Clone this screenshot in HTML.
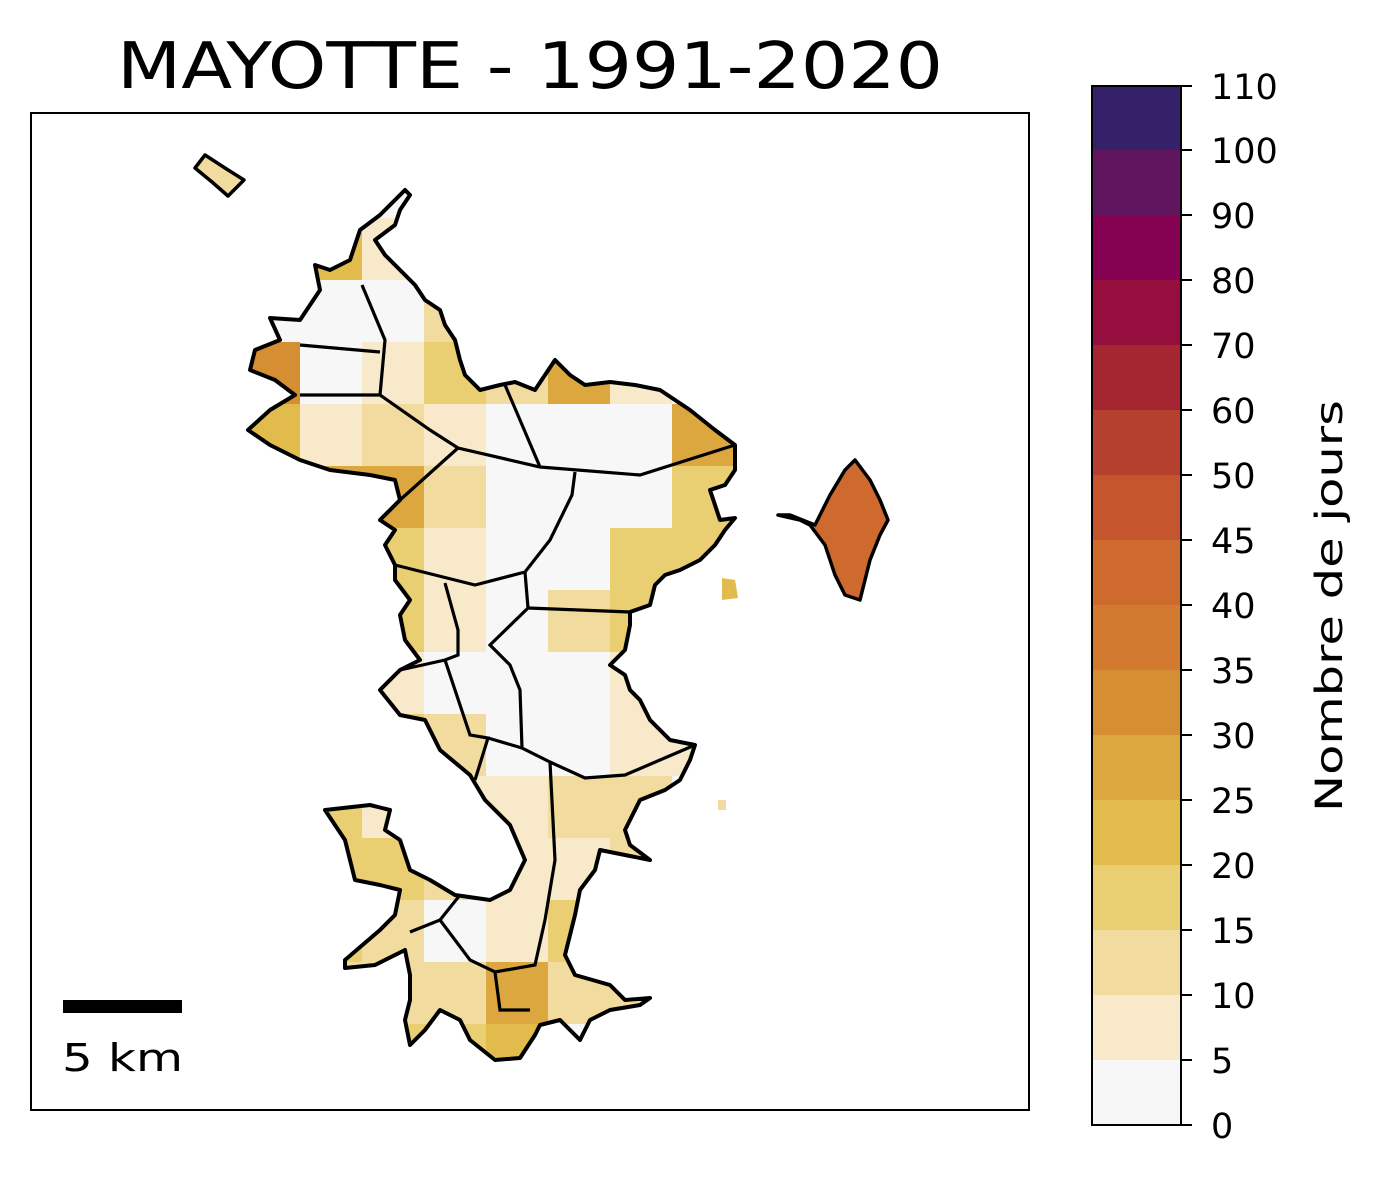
<!DOCTYPE html>
<html><head><meta charset="utf-8"><style>
body{margin:0;background:#fff;}
svg{display:block;font-family:"DejaVu Sans","Liberation Sans",sans-serif;}
</style></head><body>
<svg width="1383" height="1180" viewBox="0 0 1383 1180" xmlns="http://www.w3.org/2000/svg">
<rect width="1383" height="1180" fill="#fff"/>
<text x="117" y="88" font-size="64" textLength="826" lengthAdjust="spacingAndGlyphs">MAYOTTE - 1991-2020</text>
<defs>
<clipPath id="isl">
<path id="mainp" d="M405,190 L380,215 L360,230 L350,260 L330,270 L315,265 L320,290 L300,320 L270,318 L280,340 L255,350 L250,370 L275,380 L295,395 L270,410 L248,430 L270,445 L300,460 L330,470 L370,475 L395,480 L400,500 L380,520 L395,530 L385,545 L395,565 L395,580 L410,600 L400,615 L405,640 L420,660 L400,670 L380,690 L400,715 L425,720 L440,750 L470,775 L485,800 L510,825 L525,860 L510,890 L490,900 L455,895 L430,880 L410,870 L400,840 L385,830 L390,810 L370,805 L325,810 L345,840 L355,880 L380,885 L400,890 L395,915 L380,930 L345,960 L345,968 L375,965 L405,950 L410,975 L410,1000 L405,1020 L410,1045 L425,1030 L440,1010 L460,1020 L470,1040 L495,1060 L520,1058 L535,1035 L540,1025 L560,1020 L580,1040 L590,1020 L610,1010 L640,1005 L650,998 L625,1000 L610,985 L575,975 L565,955 L570,935 L575,915 L580,890 L595,870 L600,850 L625,855 L650,860 L630,845 L625,830 L640,800 L665,790 L680,780 L690,760 L695,745 L670,740 L650,720 L640,700 L630,690 L625,675 L610,665 L625,650 L630,625 L630,612 L650,605 L655,585 L665,575 L680,570 L700,560 L715,545 L725,530 L735,518 L720,520 L715,505 L710,490 L725,485 L735,470 L735,445 L715,430 L700,418 L690,410 L660,390 L635,385 L610,382 L585,385 L570,375 L555,360 L545,375 L535,390 L515,382 L500,385 L480,390 L465,375 L460,360 L455,340 L445,325 L440,310 L425,300 L415,285 L400,270 L385,255 L375,240 L395,225 L400,210 L410,195 Z"/>
</clipPath>
</defs>
<rect x="31" y="113" width="998" height="997" fill="#fff" stroke="#000" stroke-width="2"/>
<g clip-path="url(#isl)">
<rect x="238" y="150" width="520" height="950" fill="#f7f7f7"/>
<rect x="300" y="218" width="62" height="62" fill="#e1bb4c"/>
<rect x="362" y="218" width="62" height="62" fill="#f7e9c9"/>
<rect x="424" y="280" width="62" height="62" fill="#f1db9e"/>
<rect x="238" y="342" width="62" height="62" fill="#d58f32"/>
<rect x="362" y="342" width="62" height="62" fill="#f7e9c9"/>
<rect x="424" y="342" width="62" height="62" fill="#e9cf72"/>
<rect x="486" y="342" width="62" height="62" fill="#f1db9e"/>
<rect x="548" y="342" width="62" height="62" fill="#dca73e"/>
<rect x="610" y="342" width="62" height="62" fill="#f7e9c9"/>
<rect x="238" y="404" width="62" height="62" fill="#e1bb4c"/>
<rect x="300" y="404" width="62" height="62" fill="#f7e9c9"/>
<rect x="362" y="404" width="62" height="62" fill="#f1db9e"/>
<rect x="424" y="404" width="62" height="62" fill="#f7e9c9"/>
<rect x="672" y="404" width="62" height="62" fill="#dca73e"/>
<rect x="300" y="466" width="62" height="62" fill="#dca73e"/>
<rect x="362" y="466" width="62" height="62" fill="#dca73e"/>
<rect x="424" y="466" width="62" height="62" fill="#f1db9e"/>
<rect x="672" y="466" width="62" height="62" fill="#e9cf72"/>
<rect x="362" y="528" width="62" height="62" fill="#e9cf72"/>
<rect x="424" y="528" width="62" height="62" fill="#f7e9c9"/>
<rect x="610" y="528" width="62" height="62" fill="#e9cf72"/>
<rect x="672" y="528" width="62" height="62" fill="#e9cf72"/>
<rect x="362" y="590" width="62" height="62" fill="#e9cf72"/>
<rect x="424" y="590" width="62" height="62" fill="#f7e9c9"/>
<rect x="548" y="590" width="62" height="62" fill="#f1db9e"/>
<rect x="610" y="590" width="62" height="62" fill="#e9cf72"/>
<rect x="362" y="652" width="62" height="62" fill="#f7e9c9"/>
<rect x="610" y="652" width="62" height="62" fill="#f7e9c9"/>
<rect x="362" y="714" width="62" height="62" fill="#e9cf72"/>
<rect x="424" y="714" width="62" height="62" fill="#f1db9e"/>
<rect x="610" y="714" width="62" height="62" fill="#f7e9c9"/>
<rect x="672" y="714" width="62" height="62" fill="#f7e9c9"/>
<rect x="300" y="776" width="62" height="62" fill="#e9cf72"/>
<rect x="362" y="776" width="62" height="62" fill="#f7e9c9"/>
<rect x="424" y="776" width="62" height="62" fill="#f7e9c9"/>
<rect x="486" y="776" width="62" height="62" fill="#f7e9c9"/>
<rect x="548" y="776" width="124" height="62" fill="#f1db9e"/>
<rect x="300" y="838" width="124" height="62" fill="#e9cf72"/>
<rect x="424" y="838" width="62" height="62" fill="#f1db9e"/>
<rect x="486" y="838" width="124" height="62" fill="#f7e9c9"/>
<rect x="610" y="838" width="62" height="62" fill="#f1db9e"/>
<rect x="300" y="900" width="62" height="62" fill="#e9cf72"/>
<rect x="362" y="900" width="62" height="62" fill="#f1db9e"/>
<rect x="486" y="900" width="62" height="62" fill="#f7e9c9"/>
<rect x="548" y="900" width="62" height="62" fill="#e9cf72"/>
<rect x="300" y="962" width="186" height="62" fill="#f1db9e"/>
<rect x="486" y="962" width="62" height="62" fill="#dca73e"/>
<rect x="548" y="962" width="124" height="62" fill="#f1db9e"/>
<rect x="362" y="1024" width="124" height="62" fill="#e9cf72"/>
<rect x="486" y="1024" width="62" height="62" fill="#e1bb4c"/>
</g>
<use href="#mainp" fill="none" stroke="#000" stroke-width="4" stroke-linejoin="round"/>
<g fill="none" stroke="#000" stroke-width="3.2">
<path d="M362,285 L385,340 L380,395 L300,395"/>
<path d="M300,345 L380,352"/>
<path d="M380,395 L430,430 L458,448 L540,467 L640,475 L735,445"/>
<path d="M458,448 L400,500"/>
<path d="M505,385 L520,420 L540,467"/>
<path d="M575,472 L572,495 L550,540 L525,572 L475,585 L395,565"/>
<path d="M525,572 L528,608 L490,645 L510,665 L520,690 L522,748 L550,762 L585,778 L625,775 L695,745"/>
<path d="M528,608 L630,612"/>
<path d="M445,583 L458,630 L458,655 L445,660 L400,670"/>
<path d="M445,660 L470,735 L488,738 L475,780"/>
<path d="M488,738 L522,748"/>
<path d="M550,762 L555,860 L545,920 L535,965 L495,972 L470,960 L440,920 L460,895"/>
<path d="M440,920 L410,932"/>
<path d="M495,972 L500,1010 L530,1010"/>
<path d="M820,540 L888,520"/>
</g>
<path d="M855,460 L870,480 L880,500 L888,520 L880,535 L870,560 L860,600 L845,595 L835,575 L825,545 L810,525 L800,520 L778,515 L790,515 L815,525 L830,495 L845,470 Z" fill="#ce6a2e" stroke="#000" stroke-width="3.5" stroke-linejoin="round"/>
<path d="M205,155 L195,168 L212,182 L228,196 L244,180 L225,168 Z" fill="#f1db9e" stroke="#000" stroke-width="3.5" stroke-linejoin="round"/>
<path d="M722,578 L735,580 L738,598 L722,600 Z" fill="#e1bb4c"/>
<rect x="718" y="800" width="8" height="10" fill="#f1db9e"/>
<rect x="63" y="1000" width="119" height="13" fill="#000"/>
<text x="62" y="1071" font-size="38" textLength="121" lengthAdjust="spacingAndGlyphs">5 km</text>
<g>
<rect x="1092" y="1060" width="89" height="65" fill="#f7f7f7"/>
<rect x="1092" y="995" width="89" height="65" fill="#f7e9c9"/>
<rect x="1092" y="930" width="89" height="65" fill="#f1db9e"/>
<rect x="1092" y="865" width="89" height="65" fill="#e9cf72"/>
<rect x="1092" y="800" width="89" height="65" fill="#e1bb4c"/>
<rect x="1092" y="735" width="89" height="65" fill="#dca73e"/>
<rect x="1092" y="670" width="89" height="65" fill="#d58f32"/>
<rect x="1092" y="605" width="89" height="65" fill="#d27a2f"/>
<rect x="1092" y="540" width="89" height="65" fill="#ce6a2e"/>
<rect x="1092" y="475" width="89" height="65" fill="#c4552d"/>
<rect x="1092" y="410" width="89" height="65" fill="#b5402e"/>
<rect x="1092" y="345" width="89" height="65" fill="#a52530"/>
<rect x="1092" y="280" width="89" height="65" fill="#960e3e"/>
<rect x="1092" y="215" width="89" height="65" fill="#850252"/>
<rect x="1092" y="150" width="89" height="65" fill="#62155f"/>
<rect x="1092" y="86" width="89" height="64" fill="#35206a"/>
<rect x="1092" y="86" width="89" height="1039" fill="none" stroke="#000" stroke-width="2"/>
</g>
<g stroke="#000" stroke-width="2">
<line x1="1181" y1="1125" x2="1192" y2="1125"/><line x1="1181" y1="1060" x2="1192" y2="1060"/>
<line x1="1181" y1="995" x2="1192" y2="995"/><line x1="1181" y1="930" x2="1192" y2="930"/>
<line x1="1181" y1="865" x2="1192" y2="865"/><line x1="1181" y1="800" x2="1192" y2="800"/>
<line x1="1181" y1="735" x2="1192" y2="735"/><line x1="1181" y1="670" x2="1192" y2="670"/>
<line x1="1181" y1="605" x2="1192" y2="605"/><line x1="1181" y1="540" x2="1192" y2="540"/>
<line x1="1181" y1="475" x2="1192" y2="475"/><line x1="1181" y1="410" x2="1192" y2="410"/>
<line x1="1181" y1="345" x2="1192" y2="345"/><line x1="1181" y1="280" x2="1192" y2="280"/>
<line x1="1181" y1="215" x2="1192" y2="215"/><line x1="1181" y1="150" x2="1192" y2="150"/>
<line x1="1181" y1="86" x2="1192" y2="86"/>
</g>
<g font-size="35">
<text x="1211" y="1138">0</text><text x="1211" y="1073">5</text>
<text x="1211" y="1008">10</text><text x="1211" y="943">15</text>
<text x="1211" y="878">20</text><text x="1211" y="813">25</text>
<text x="1211" y="748">30</text><text x="1211" y="683">35</text>
<text x="1211" y="618">40</text><text x="1211" y="553">45</text>
<text x="1211" y="488">50</text><text x="1211" y="423">60</text>
<text x="1211" y="358">70</text><text x="1211" y="293">80</text>
<text x="1211" y="228">90</text><text x="1211" y="163">100</text>
<text x="1211" y="99">110</text>
</g>
<text transform="translate(1342,606) rotate(-90)" font-size="37" text-anchor="middle" textLength="412" lengthAdjust="spacingAndGlyphs">Nombre de jours</text>
</svg>
</body></html>
